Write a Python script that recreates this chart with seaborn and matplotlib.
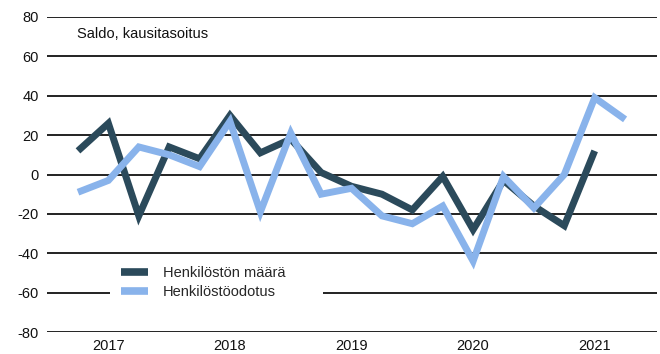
import matplotlib
matplotlib.use("Agg")
import matplotlib.pyplot as plt
from matplotlib.patches import Rectangle
import seaborn as sns
import pandas as pd
import numpy as np

# Quarterly balance figures, 2016Q4 onwards
quarters = ["2016Q4",
            "2017Q1", "2017Q2", "2017Q3", "2017Q4",
            "2018Q1", "2018Q2", "2018Q3", "2018Q4",
            "2019Q1", "2019Q2", "2019Q3", "2019Q4",
            "2020Q1", "2020Q2", "2020Q3", "2020Q4",
            "2021Q1", "2021Q2"]
henkiloston_maara = [12, 26, -21, 14, 8, 30, 11, 18, 1,
                     -6, -10, -18, -1, -28, -3, -16, -26, 12, None]
henkilostoodotus = [-9, -3, 14, 10, 4, 27, -19, 21, -10,
                    -7, -21, -25, -16, -44, -1, -17, 0, 39, 28]
year_labels = ["2017", "2018", "2019", "2020", "2021"]
series_names = ["Henkilöstön määrä", "Henkilöstöodotus"]
colors = ["#2B4A5B", "#89B3EB"]

sns.set_theme(style="white")
plt.rcParams["font.family"] = ["Liberation Sans", "DejaVu Sans"]

df = pd.DataFrame({
    "pos": np.arange(len(quarters)),
    series_names[0]: henkiloston_maara,
    series_names[1]: henkilostoodotus,
})
long = df.melt(id_vars="pos", var_name="sarja", value_name="saldo").dropna()

W, H = 660, 354
fig = plt.figure(figsize=(W / 100, H / 100), dpi=100)
ax = fig.add_axes([47 / W, 22 / H, 610 / W, 315 / H])

sns.lineplot(data=long, x="pos", y="saldo", hue="sarja", hue_order=series_names,
             palette=colors, linewidth=5.0, ax=ax, legend=False, zorder=3)
for ln in ax.get_lines():
    ln.set_solid_joinstyle("miter")
    ln.set_solid_capstyle("butt")

ax.set_ylim(-80, 80)
ax.set_xlim(-1.02, 19.05)
ax.set_yticks(np.arange(-80, 81, 20))
ax.set_yticklabels([str(v) for v in range(-80, 81, 20)], fontsize=10.5, color="#111111")
year_pos = [i for i, q in enumerate(quarters) if q.endswith("Q1")]
ax.set_xticks(year_pos)
ax.set_xticklabels(year_labels, fontsize=10.5, color="#111111")
ax.tick_params(axis="both", length=0)
ax.tick_params(axis="y", pad=6)
ax.tick_params(axis="x", pad=5)
ax.set_xlabel("")
ax.set_ylabel("")
for s in ax.spines.values():
    s.set_visible(False)
ax.grid(axis="y", color="#111111", linewidth=1.3, zorder=1)
ax.grid(axis="x", visible=False)
ax.set_axisbelow(True)

fig.text(77 / W, 1 - 34 / H, "Saldo, kausitasoitus", fontsize=10.5,
         va="center", ha="left", color="#111111")

# white panel behind the legend, covering the gridline beneath it
fig.patches.append(Rectangle((110 / W, 1 - 303 / H), 213 / W, 41 / H,
                             transform=fig.transFigure, facecolor="white",
                             edgecolor="none", zorder=4))

handles = [plt.Line2D([0], [0], color=c, linewidth=5.5, solid_capstyle="butt")
           for c in colors]
leg = fig.legend(handles, series_names, loc="center left",
                 bbox_to_anchor=(117 / W, 1 - 282.5 / H),
                 fontsize=10.5, frameon=False, handlelength=1.85, handletextpad=1.0,
                 labelspacing=0.3, borderpad=0.3, borderaxespad=0)
leg.set_zorder(5)

fig.savefig("out.png", dpi=100)
